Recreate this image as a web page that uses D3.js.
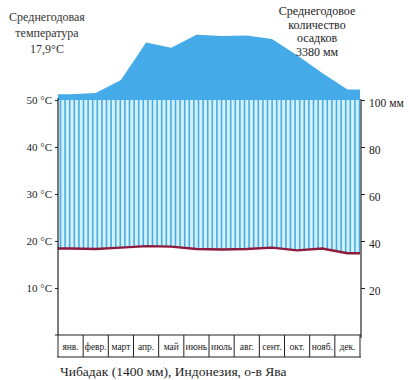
<!DOCTYPE html>
<html><head><meta charset="utf-8">
<script src="https://cdn.jsdelivr.net/npm/d3@7"></script>
<style>body{margin:0;background:#fff}svg{display:block}</style>
</head><body><svg id="c" width="410" height="380" font-family="'Liberation Serif', 'Times New Roman', Tinos, 'DejaVu Serif', serif"></svg>
<script>
const months = ["янв.","февр.","март","апр.","май","июнь","июль","авг.","сент.","окт.","нояб.","дек."];
const temperature = [18.4, 18.3, 18.6, 18.9, 18.8, 18.3, 18.2, 18.3, 18.6, 18.0, 18.4, 17.4];
const precipitation = [125, 130, 185, 345, 322, 378, 372, 375, 360, 290, 215, 145];
const tempTicks = [10, 20, 30, 40, 50];
const precTicks = [20, 40, 60, 80, 100];
const titleLeft = ["Среднегодовая", "температура", "17,9°С"];
const titleRight = ["Среднегодовое", "количество", "осадков", "3380 мм"];
const caption = "Чибадак (1400 мм), Индонезия, о-в Ява";

const FONT = "'Liberation Serif', 'Times New Roman', Tinos, 'DejaVu Serif', serif";
const svg = d3.select("#c");
const L = 58, R = 360;
const x = d3.scaleBand().domain(months).range([L, R]);
const yT = d3.scaleLinear().domain([0, 50]).range([335, 100]);
// precipitation: 0-100 mm = 0-50 °C; above 100 mm compressed (200 mm per 10 °C)
const yP = d3.scaleLinear().domain([0, 100, 600]).range([yT(0), yT(50), yT(75)]);
const cx = m => x(m) + x.bandwidth() / 2;

const pPts = [[L, precipitation[0]], ...months.map((m, i) => [cx(m), precipitation[i]]), [R, precipitation[11]]];
const tPts = [[L, temperature[0]], ...months.map((m, i) => [cx(m), temperature[i]]), [R, temperature[11]]];

// solid precipitation area above 100 mm
svg.append("path")
  .attr("d", d3.area().x(d => d[0]).y0(yP(100)).y1(d => yP(d[1]))(pPts))
  .attr("fill", "#44abe8");

// hatched humid area between temperature and 100 mm
const defs = svg.append("defs");
defs.append("clipPath").attr("id", "hc").append("path")
  .attr("d", d3.area().x(d => d[0]).y0(d => yT(d[1])).y1(yP(100))(tPts));
const g = svg.append("g").attr("clip-path", "url(#hc)");
g.append("rect").attr("x", L).attr("y", yP(100)).attr("width", R - L).attr("height", yT(0) - yP(100)).attr("fill", "#d4f1fb");
g.selectAll("line.h").data(d3.range(L + 2.5, R, 4.6)).join("line")
  .attr("x1", d => d).attr("x2", d => d).attr("y1", yP(100)).attr("y2", yT(0))
  .attr("stroke", "#48ade0").attr("stroke-width", 1.6);

// temperature line
svg.append("path")
  .attr("d", d3.line().x(d => d[0]).y(d => yT(d[1]))(tPts))
  .attr("fill", "none").attr("stroke", "#8e1a3c").attr("stroke-width", 2.4);

// left axis
const ax = svg.append("g").attr("transform", `translate(${L},0)`)
  .call(d3.axisLeft(yT).tickValues(tempTicks).tickSize(3).tickPadding(3).tickFormat(d => d + " °C"));
ax.attr("font-family", FONT);
ax.select(".domain").remove();
ax.selectAll("line").attr("stroke", "#222");
ax.selectAll("text").attr("font-size", 11).attr("fill", "#222");
svg.append("line").attr("x1", L).attr("x2", L).attr("y1", 98).attr("y2", 335).attr("stroke", "#222").attr("stroke-width", 1.2);

// right axis
const ar = svg.append("g").attr("transform", `translate(${R + 1},0)`)
  .call(d3.axisRight(yP).tickValues(precTicks).tickSize(4).tickPadding(4).tickFormat(d => d === 100 ? "100 мм" : d));
ar.attr("font-family", FONT);
ar.select(".domain").remove();
ar.selectAll("line").attr("stroke", "#222");
ar.selectAll("text").attr("font-size", 11.5).attr("fill", "#222").attr("dy", "0.55em");
svg.append("line").attr("x1", R + 1).attr("x2", R + 1).attr("y1", 99).attr("y2", 338).attr("stroke", "#222").attr("stroke-width", 1.2);

// month table
svg.append("line").attr("x1", 55).attr("x2", R + 1).attr("y1", 335).attr("y2", 335).attr("stroke", "#222").attr("stroke-width", 1.2);
svg.append("line").attr("x1", 57).attr("x2", R + 1).attr("y1", 357).attr("y2", 357).attr("stroke", "#222").attr("stroke-width", 1.2);
svg.selectAll("line.mb").data([...months.map(m => x(m)), R]).join("line")
  .attr("x1", d => d).attr("x2", d => d).attr("y1", 335).attr("y2", 357)
  .attr("stroke", "#222").attr("stroke-width", 1);
svg.selectAll("text.m").data(months).join("text")
  .attr("x", d => cx(d)).attr("y", 350).attr("text-anchor", "middle")
  .attr("font-size", 9.5).attr("font-family", FONT).attr("fill", "#222").text(d => d);

// caption
svg.append("text").attr("x", 60).attr("y", 376).attr("font-size", 13.5).attr("font-family", FONT).attr("fill", "#222").text(caption);

// titles
svg.selectAll("text.tl").data(titleLeft).join("text")
  .attr("x", 47).attr("y", (d, i) => 21 + i * 16).attr("text-anchor", "middle")
  .attr("font-size", 12).attr("font-family", FONT).attr("fill", "#333").text(d => d);
svg.selectAll("text.tr").data(titleRight).join("text")
  .attr("x", 317).attr("y", (d, i) => 15 + i * 13.5).attr("text-anchor", "middle")
  .attr("font-size", 12).attr("font-family", FONT).attr("fill", "#222").text(d => d);
</script></body></html>
